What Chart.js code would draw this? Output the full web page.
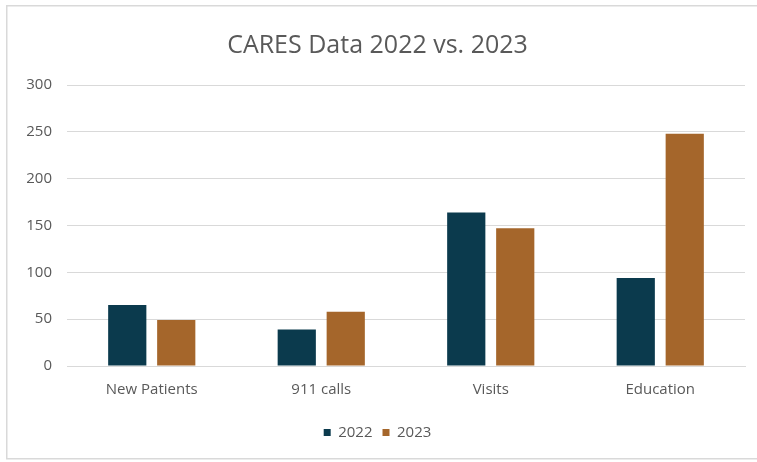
<!DOCTYPE html>
<html>
<head>
<meta charset="utf-8">
<script src="https://cdn.jsdelivr.net/npm/chart.js@4.4.1/dist/chart.umd.min.js"></script>
<style>
  html, body { margin: 0; padding: 0; background: #ffffff; }
  #wrap { width: 757px; height: 462px; position: relative; }
</style>
</head>
<body>
<div id="wrap"><canvas id="caresChart" width="757" height="462"></canvas></div>
<script>
// CARES counts per category
const categories = ['New Patients', '911 calls', 'Visits', 'Education'];
const values2022 = [65, 39, 164, 94];
const values2023 = [49, 58, 147, 248];
const seriesNames = ['2022', '2023'];

const textColor = '#595959';
const gridColor = '#d9d9d9';
const fontFamily = '"Open Sans", "Liberation Sans", sans-serif';

// light frame around the whole chart
const framePlugin = {
    id: 'frame',
    beforeDraw(chart) {
        const ctx = chart.ctx;
        ctx.save();
        ctx.fillStyle = '#ffffff';
        ctx.fillRect(0, 0, chart.width, chart.height);
        ctx.strokeStyle = '#d9d9d9';
        ctx.lineWidth = 1.5;
        ctx.strokeRect(6.75, 5.75, chart.width, 453);
        ctx.restore();
    }
};

new Chart(document.getElementById('caresChart').getContext('2d'), {
    type: 'bar',
    data: {
        labels: categories,
        datasets: [
            {
                label: seriesNames[0],
                data: values2022,
                backgroundColor: '#0b3a4d'
            },
            {
                label: seriesNames[1],
                data: values2023,
                backgroundColor: '#a5662b'
            }
        ]
    },
    options: {
        responsive: false,
        animation: false,
        devicePixelRatio: 1,
        categoryPercentage: 0.578,
        barPercentage: 0.78,
        layout: {
            padding: { left: 10, right: 12, top: 6, bottom: 12 }
        },
        plugins: {
            title: {
                display: true,
                text: 'CARES Data 2022 vs. 2023',
                color: textColor,
                font: { family: fontFamily, size: 25, weight: 'normal' },
                padding: { top: 25, bottom: 24 }
            },
            legend: {
                position: 'bottom',
                labels: {
                    color: textColor,
                    font: { family: fontFamily, size: 15 },
                    boxWidth: 7,
                    boxHeight: 7,
                    padding: 10
                }
            },
            tooltip: { enabled: false }
        },
        scales: {
            x: {
                grid: { display: false },
                border: { color: gridColor },
                ticks: {
                    color: textColor,
                    font: { family: fontFamily, size: 15 },
                    padding: 7
                },
                afterFit(scale) { scale.height += 9; }
            },
            y: {
                min: 0,
                max: 300,
                ticks: {
                    stepSize: 50,
                    color: textColor,
                    font: { family: fontFamily, size: 15 },
                    padding: 15
                },
                grid: { color: gridColor, drawTicks: false },
                border: { display: false },
                afterFit(scale) { scale.width = 57; }
            }
        }
    },
    plugins: [framePlugin]
});
</script>
</body>
</html>
